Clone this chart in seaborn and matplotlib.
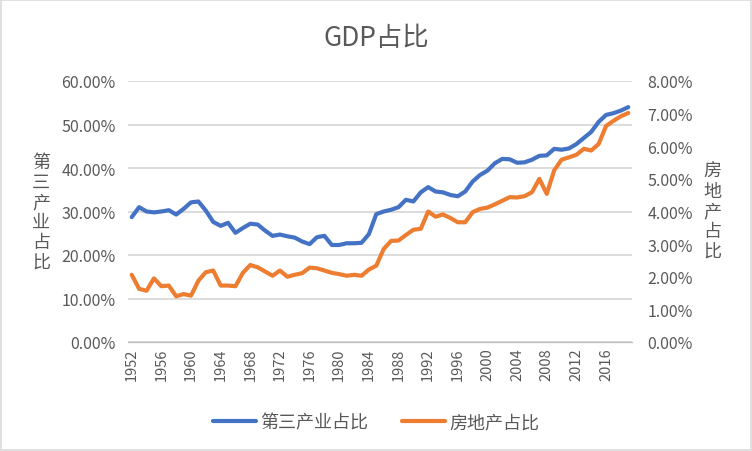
import numpy as np
import pandas as pd
import seaborn as sns
import matplotlib.pyplot as plt
from matplotlib.ticker import FixedLocator, FuncFormatter

# data (percent of GDP), 1952-2019
years = list(range(1952, 2020))
tertiary = [28.7, 31.0, 30.0, 29.8, 30.0, 30.3, 29.3, 30.6, 32.1, 32.3,
            30.2, 27.6, 26.7, 27.4, 25.1, 26.2, 27.2, 27.0, 25.6, 24.4,
            24.7, 24.3, 24.0, 23.1, 22.5, 24.1, 24.4, 22.3, 22.3, 22.7,
            22.7, 22.8, 24.8, 29.4, 30.0, 30.4, 31.0, 32.7, 32.3, 34.4,
            35.6, 34.6, 34.4, 33.8, 33.5, 34.6, 36.9, 38.4, 39.4, 41.1,
            42.1, 42.0, 41.2, 41.3, 41.9, 42.8, 42.9, 44.4, 44.2, 44.5,
            45.5, 46.9, 48.3, 50.6, 52.2, 52.6, 53.2, 54.0]
realestate = [2.06, 1.63, 1.57, 1.95, 1.71, 1.73, 1.40, 1.47, 1.42, 1.88,
              2.14, 2.19, 1.73, 1.73, 1.71, 2.12, 2.36, 2.29, 2.16, 2.03,
              2.19, 2.00, 2.06, 2.11, 2.28, 2.26, 2.19, 2.12, 2.08, 2.03,
              2.06, 2.03, 2.22, 2.34, 2.85, 3.10, 3.11, 3.28, 3.44, 3.47,
              4.00, 3.84, 3.91, 3.80, 3.67, 3.67, 3.98, 4.08, 4.12, 4.22,
              4.33, 4.44, 4.43, 4.47, 4.59, 5.00, 4.54, 5.26, 5.59, 5.66,
              5.74, 5.92, 5.87, 6.07, 6.62, 6.78, 6.92, 7.02]
left_ticks = [0, 10, 20, 30, 40, 50, 60]
right_ticks = [0, 1, 2, 3, 4, 5, 6, 7, 8]
year_labels = list(range(1952, 2020, 4))

name_blue = "第三产业占比"
name_orange = "房地产占比"

df = pd.DataFrame({"year": years, name_blue: tertiary, name_orange: realestate})

sns.set_style("white")
plt.rcParams['font.family'] = ['Noto Sans CJK SC', 'DejaVu Sans']

BLUE = "#4472C4"
ORANGE = "#ED7D31"
GRID = "#D9D9D9"
TXT = "#595959"

fig = plt.figure(figsize=(7.52, 4.52), dpi=100)
fig.patch.set_facecolor("white")
ax = fig.add_axes([128 / 752, 1 - 343 / 452, 504 / 752, 261 / 452])
ax2 = ax.twinx()

sns.lineplot(data=df, x="year", y=name_blue, ax=ax, color=BLUE,
             linewidth=3, solid_capstyle="round", legend=False)
sns.lineplot(data=df, x="year", y=name_orange, ax=ax2, color=ORANGE,
             linewidth=3, solid_capstyle="round", legend=False)

ax.set_xlim(1951.5, 2019.5)
ax.set_ylim(0, 60)
ax2.set_ylim(0, 8)

ax.yaxis.set_major_locator(FixedLocator(left_ticks))
ax2.yaxis.set_major_locator(FixedLocator(right_ticks))
pct = FuncFormatter(lambda v, p: f"{v:.2f}%")
ax.yaxis.set_major_formatter(pct)
ax2.yaxis.set_major_formatter(pct)

ax.set_xticks(year_labels)
ax.set_xticklabels([str(y) for y in year_labels], rotation=90)
ax.set_xticks([1951.5 + 4 * k for k in range(18)], minor=True)
ax.tick_params(axis="x", which="major", length=0, pad=4, labelsize=10.5, labelcolor=TXT)
ax.tick_params(axis="x", which="minor", length=4, width=1, color="#BFBFBF", direction="out")
ax.tick_params(axis="y", length=0, pad=9, labelsize=11.5, labelcolor=TXT)
ax2.tick_params(axis="y", length=0, pad=11, labelsize=11.5, labelcolor=TXT)

ax.grid(axis="y", color=GRID, linewidth=1.3)
ax.set_axisbelow(True)
for a in (ax, ax2):
    for s in ("top", "left", "right"):
        a.spines[s].set_visible(False)
    a.spines["bottom"].set_color("#BFBFBF")
    a.set_xlabel("")
    a.set_ylabel("")

fig.text(0.5, 1 - 38 / 452, "GDP占比", ha="center", va="center", fontsize=19, color=TXT)
fig.text(41 / 752, 1 - 213 / 452, "\n".join(name_blue), ha="center", va="center",
         fontsize=13, color=TXT, linespacing=1.15)
fig.text(712 / 752, 1 - 212 / 452, "\n".join(name_orange), ha="center", va="center",
         fontsize=13, color=TXT, linespacing=1.15)

handles = [ax.lines[0], ax2.lines[0]]
fig.legend(handles, [name_blue, name_orange], loc="center", ncol=2,
           bbox_to_anchor=(0.5, 1 - 423 / 452), frameon=False, fontsize=13,
           handlelength=2.4, handletextpad=0.2, columnspacing=1.9,
           labelcolor=TXT)

fig.patch.set_edgecolor("#E0E0E0")
fig.patch.set_linewidth(1.5)
fig.savefig("out.png", dpi=100, edgecolor=fig.get_edgecolor())
